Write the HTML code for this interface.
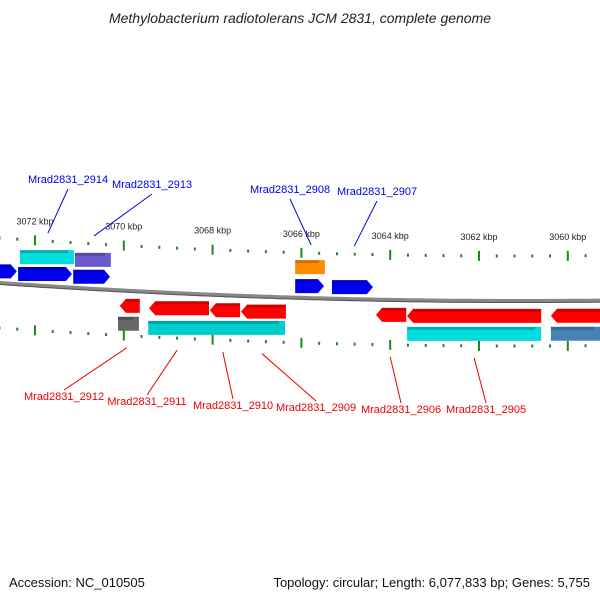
<!DOCTYPE html>
<html><head><meta charset="utf-8"><style>
body{margin:0;background:#fff}
svg{display:block;font-family:"Liberation Sans",sans-serif}
</style></head><body>
<svg id="c" width="600" height="600" viewBox="0 0 600 600">
<text x="300" y="23" text-anchor="middle" font-size="14" font-style="italic" fill="#222">Methylobacterium radiotolerans JCM 2831, complete genome</text>
<text x="9" y="587" font-size="13" fill="#111">Accession: NC_010505</text>
<text x="590" y="587" text-anchor="end" font-size="13" fill="#111">Topology: circular; Length: 6,077,833 bp; Genes: 5,755</text>
<g id="g"></g>
</svg>
<script>
const majorTicks = [3072,3070,3068,3066,3064,3062,3060];
const tickLabels = ["3072 kbp","3070 kbp","3068 kbp","3066 kbp","3064 kbp","3062 kbp","3060 kbp"];
const featStart = [3072.90,3072.38,3071.14,3066.14,3065.31, 3072.34,3071.10,3066.14, 3070.09,3069.43,3068.06,3067.36,3064.32,3063.62,3060.38, 3070.13,3069.45,3063.62,3060.38];
const featEnd   = [3072.41,3071.17,3070.31,3065.49,3064.39, 3071.12,3070.29,3065.47, 3069.64,3068.08,3067.38,3066.35,3063.64,3060.60,3059.27, 3069.66,3066.37,3060.60,3059.27];
const featStrand= [1,1,1,1,1, 0,0,0, -1,-1,-1,-1,-1,-1,-1, 0,0,0,0];
const featRow   = [-12,-12,-12,-12,-12, -29,-29,-31, 15,15,15,15,15,15,15, 33,33,33,33];
const featColor = ["#0000ee","#0000ee","#0000ee","#0000ee","#0000ee","#00dddd","#6a5acd","#ff8c00","#ff0000","#ff0000","#ff0000","#ff0000","#ff0000","#ff0000","#ff0000","#666666","#00cccc","#00dddd","#4682b4"];
const geneNames = ["Mrad2831_2914","Mrad2831_2913","Mrad2831_2908","Mrad2831_2907","Mrad2831_2912","Mrad2831_2911","Mrad2831_2910","Mrad2831_2909","Mrad2831_2906","Mrad2831_2905"];
const geneKbp   = [3071.71,3070.67,3065.78,3064.81,3069.93,3068.80,3067.77,3066.89,3064.0,3062.11];
const geneSide  = [-1,-1,-1,-1,1,1,1,1,1,1];

const X = k => 35 + (3072 - k) * 44.4;
const B = x => 301 - 6.66e-5 * (x - 520) * (x - 520);
const g = document.getElementById('g');
const NS = 'http://www.w3.org/2000/svg';
function mk(t, a, name){const e=document.createElementNS(NS,t);for(const k in a)e.setAttribute(k,a[k]);


g.appendChild(e);return e;}

let d='';for(let x=-5;x<=605;x+=5){d+=(x===-5?'M':'L')+x+','+B(x).toFixed(1);}
mk('path',{d:d,stroke:'#888',"stroke-width":4,fill:'none'},'backbone');
mk('path',{d:d,stroke:'#555',"stroke-width":1,fill:'none',transform:'translate(0,1.5)'},'backbone-shadow');

for(let k=3073.6;k>=3058.9;k-=0.4){
  const kr=Math.round(k*10)/10, x=X(kr);
  const major = majorTicks.some(m=>Math.abs(m-kr)<0.05);
  [-45,45].forEach(off=>{
    const y=B(x)+off, h=major?5:1.5;
    mk('line',{x1:x,x2:x,y1:y-h,y2:y+h,stroke:'#1a8a1a',"stroke-width":2},major?'major-tick':'minor-tick');
  });
}
majorTicks.forEach((m,i)=>{const x=X(m);
  const t=mk('text',{x:x,y:B(x)-61,"font-size":9,"text-anchor":"middle",fill:'#222'},'tick-label');t.textContent=tickLabels[i];});

featStart.forEach((s,i)=>{
  const x0=X(s), x1=X(featEnd[i]); const h=14, cy=(B((x0+x1)/2))+featRow[i];
  const y0=cy-h/2, y1=cy+h/2, a=6; let pts;
  if(featStrand[i]===1) pts=[[x0,y0],[x1-a,y0],[x1,cy],[x1-a,y1],[x0,y1]];
  else if(featStrand[i]===-1) pts=[[x0+a,y0],[x1,y0],[x1,y1],[x0+a,y1],[x0,cy]];
  else pts=[[x0,y0],[x1,y0],[x1,y1],[x0,y1]];
  mk('polygon',{points:pts.map(p=>p.map(v=>v.toFixed(1)).join(',')).join(' '),fill:featColor[i]},'gene-feature');
  mk('rect',{x:x0+(featStrand[i]===-1?a:0),y:y0,width:Math.max(0,x1-x0-a),height:3,fill:'#000',opacity:0.2},'feature-shade');
});

geneNames.forEach((n,i)=>{
  const x=X(geneKbp[i]); const side=geneSide[i];
  const lx = side<0 ? [68,152,290,377][i] : [64,147,233,316,401,486][i-4];
  const ly = side<0 ? [179,184,189,191][i] : [396,401,405,407,409,409][i-4];
  const col = side<0 ? '#0000ee' : '#ee0000';
  const ty = side<0 ? B(x)-53 : B(x)+57;
  mk('line',{x1:x,y1:ty,x2:lx,y2:side<0?ly+10:ly-6,stroke:col,"stroke-width":1},'label-leader');
  const t=mk('text',{x:lx,y:ly+4,"font-size":11,"text-anchor":"middle",fill:col},'gene-label');t.textContent=n;
});
</script>
</body></html>
